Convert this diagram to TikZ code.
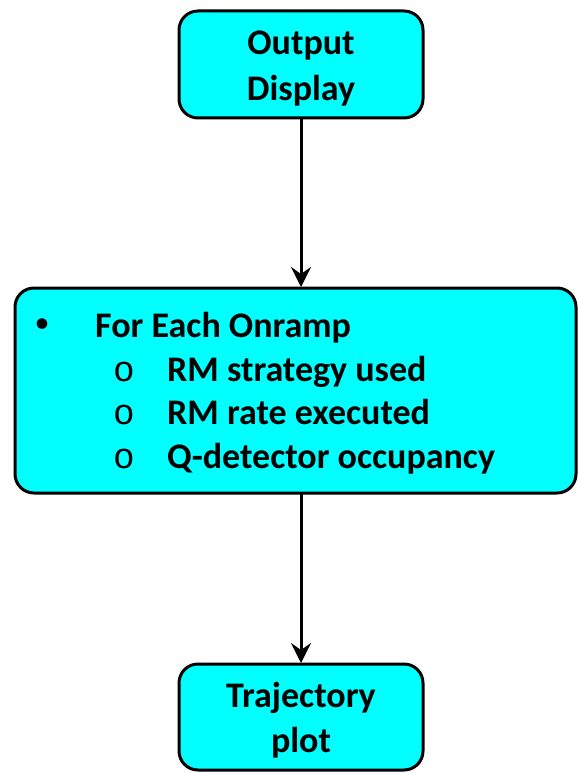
\documentclass[tikz,border=0pt]{standalone}
\usepackage{fontspec}
\setmainfont{Carlito}
\newfontfamily\monofam{Liberation Mono}
\usetikzlibrary{arrows.meta}
\definecolor{boxcyan}{HTML}{00FFFF}
\tikzset{
  boxstyle/.style={draw=black, line width=3pt, fill=boxcyan, rounded corners=19pt},
  txt/.style={font=\fontsize{36}{44}\selectfont\bfseries, inner sep=0pt},
  bul/.style={font=\fontsize{30}{44}\selectfont, inner sep=0pt},
  circ/.style={font=\fontsize{36}{44}\monofam, inner sep=0pt},
  conn/.style={line width=3pt, -{Stealth[length=20pt,width=20pt,inset=7pt]}}
}
\begin{document}
\begin{tikzpicture}[x=1pt,y=-1pt]
\useasboundingbox (0,0) rectangle (578,773);
% boxes
\draw[boxstyle] (179,11) rectangle (423,118);
\coordinate (topS) at (301,119);
\draw[boxstyle] (15,288) rectangle (576,493);
\coordinate (midN) at (301,287);
\coordinate (midS) at (301,494);
\draw[boxstyle] (179,664) rectangle (423,770);
\coordinate (botN) at (301,663);
% texts
\node[txt] (t1) at (301,46) {Output};
\node[txt] (t2) at (301,91) {Display};
\node[bul] (b0) at (42,326) {•};
\node[txt, anchor=base west] (l0) at (95,337) {For Each Onramp};
\node[circ, anchor=base west] (b1) at (113,381) {o};
\node[txt, anchor=base west] (l1) at (167,381) {RM strategy used};
\node[circ, anchor=base west] (b2) at (113,424) {o};
\node[txt, anchor=base west] (l2) at (167,424) {RM rate executed};
\node[circ, anchor=base west] (b3) at (113,468) {o};
\node[txt, anchor=base west] (l3) at (167,468) {Q-detector occupancy};
\node[txt] (t3) at (301,698) {Trajectory};
\node[txt] (t4) at (301,743) {plot};
% connectors
\draw[conn] (topS) -- (midN);
\draw[conn] (midS) -- (botN);
\end{tikzpicture}
\end{document}
